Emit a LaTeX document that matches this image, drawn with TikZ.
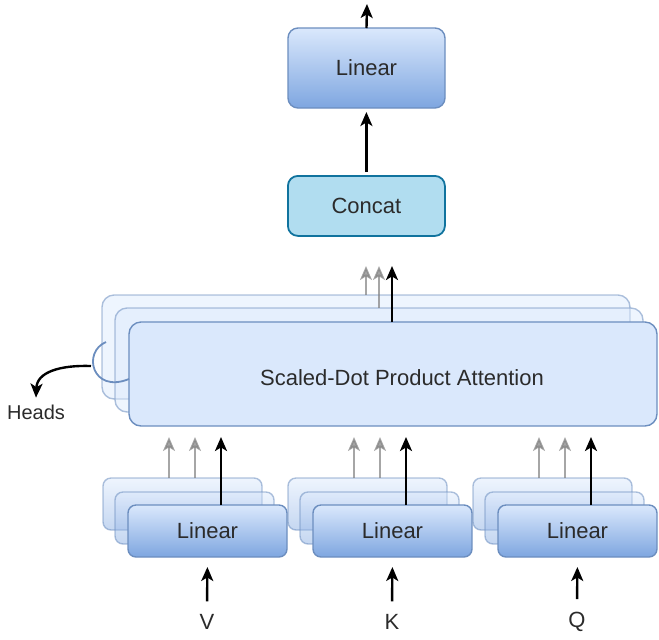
\documentclass[tikz,border=0pt]{standalone}
\usepackage{fontspec}
\setmainfont{Liberation Sans}
\usetikzlibrary{arrows.meta,positioning,calc}

\definecolor{boxline}{HTML}{6C8EBF}
\definecolor{boxfill}{HTML}{DAE8FC}
\definecolor{boxdark}{HTML}{7EA6E0}
\definecolor{catline}{HTML}{10739E}
\definecolor{catfill}{HTML}{B1DDF0}
\definecolor{txt}{HTML}{2B2B2B}

\begin{document}
\begin{tikzpicture}[
  x=0.5pt, y=-0.5pt,
  >={Stealth[length=7pt,width=6pt,inset=1.8pt]},
  lbl/.style={font=\fontsize{11}{13}\selectfont, text=txt},
  linbox/.style={lbl, draw=boxline, line width=0.7pt, rounded corners=4pt, top color=boxfill, bottom color=boxdark, minimum width=79.5pt, minimum height=26pt, anchor=north west, inner sep=0pt, outer sep=0pt},
  ghost/.style={fill opacity=0.45, draw opacity=0.55},
  attbox/.style={lbl, draw=boxline, line width=0.7pt, rounded corners=6pt, fill=boxfill, minimum width=264pt, minimum height=52pt, anchor=north west, inner sep=0pt, outer sep=0pt},
  flow/.style={->, line width=1.2pt},
  faint/.style={->, line width=0.9pt, draw=gray, opacity=0.7}
]
\useasboundingbox (0,0) rectangle (659,639);

% output side
\node[linbox, rounded corners=5pt, minimum width=78.5pt, minimum height=40pt] (lintop) at (288,28) {Linear};
\node[lbl, draw=catline, line width=0.9pt, rounded corners=5pt, fill=catfill, minimum width=78.5pt, minimum height=30pt, anchor=north west, inner sep=0pt] (concat) at (287,175) {Concat};
\coordinate (out) at (367,4);
\draw[flow] (lintop.north) -- (out);
\draw[flow, shorten <=1.5pt, shorten >=2pt] (concat.north) -- (concat.north |- lintop.south);

% attention heads, stacked
\node[attbox, ghost] (att3) at (102,295) {};
\node[attbox, ghost] (att2) at (115,308) {};
\node[attbox] (att1) at (129,322) {};
\node[lbl] (atttext) at (402,378) {Scaled-Dot Product Attention};

\coordinate (c1) at (366,266);
\coordinate (c2) at (379,266);
\coordinate (c3) at (392,266);
\draw[faint] (att3.north -| c1) -- (c1);
\draw[faint] (att2.north -| c2) -- (c2);
\draw[flow] (att1.north -| c3) -- (c3);

% heads bracket
\draw[boxline, line width=0.9pt] (106,342) .. controls (82,352) and (92,394) .. (att1.west |- 0,379);
\coordinate (hd) at (91,366);
\node[lbl, font=\fontsize{10}{12}\selectfont] (heads) at (36,412) {Heads};
\draw[flow] (hd) .. controls (60,365) and (37,372) .. (heads.north);

% projections of V, K, Q
\foreach \x/\nm/\lab in {128/v/V, 313/k/K, 498/q/Q} {
  \node[linbox, ghost] (\nm3) at (\x-25,478) {};
  \node[linbox, ghost] (\nm2) at (\x-13,492) {};
  \node[linbox] (\nm1) at (\x,505) {Linear};
  \node[lbl] (in\nm) at (\x+79,622) {\lab};
  \draw[flow, shorten <=3pt, shorten >=5pt] (in\nm.north) -- (\nm1.south);
  \draw[faint] ($(\nm3.north west)+(66,0)$) -- ++(0,-41);
  \draw[faint] ($(\nm3.north west)+(92,0)$) -- ++(0,-41);
  \draw[flow] ($(\nm1.north west)+(93,0)$) -- ++(0,-68);
}
\end{tikzpicture}
\end{document}
